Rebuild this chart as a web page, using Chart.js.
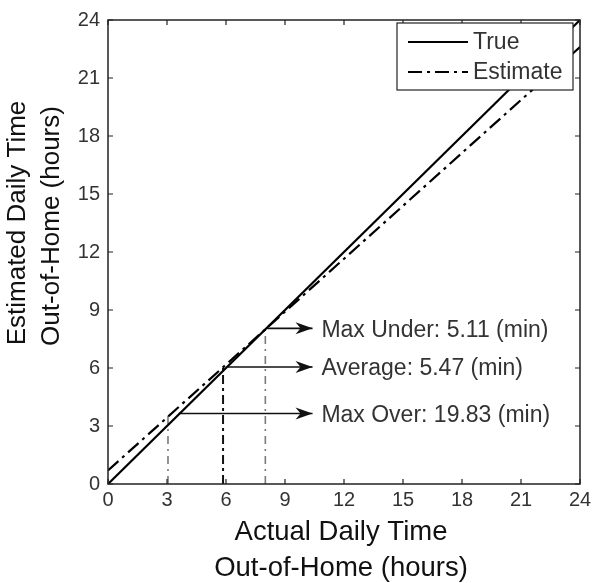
<!DOCTYPE html>
<html>
<head>
<meta charset="utf-8">
<script src="https://cdn.jsdelivr.net/npm/chart.js@4/dist/chart.umd.min.js"></script>
<style>
html,body{margin:0;padding:0;background:#fff;}
#wrap{width:600px;height:583px;}
</style>
</head>
<body>
<div id="wrap"><canvas id="c" width="600" height="583"></canvas></div>
<script>
// ---- data ----
const tickValues = [0, 3, 6, 9, 12, 15, 18, 21, 24];
const trueX = [0, 24];
const trueY = [0, 24];
const estX = [0, 24];
const estY = [0.7, 22.6];
const annLabels = ["Max Under: 5.11 (min)", "Average: 5.47 (min)", "Max Over: 19.83 (min)"];
const annY = [8.05, 6.05, 3.65];
const annStartX = [8.1, 6.1, 3.6];
const annDropX = [8.0, 5.85, 3.05];
const annArrowX = [10.4, 10.4, 10.4];
const annTextX = [10.85, 10.85, 10.85];
const annDropColor = ["#7a7a7a", "#111111", "#7a7a7a"];
const xTitle = ["Actual Daily Time", "Out-of-Home (hours)"];
const yTitle = ["Estimated Daily Time", "Out-of-Home (hours)"];

const FONT = '"Liberation Sans", Arial, sans-serif';

const datasets = [
  {label: "True", data: trueX.map((x, i) => ({x, y: trueY[i]})), borderColor: "#000", borderWidth: 2.2, showLine: true, pointRadius: 0, fill: false},
  {label: "Estimate", data: estX.map((x, i) => ({x, y: estY[i]})), borderColor: "#000", borderWidth: 2.2, borderDash: [14, 5, 3, 5], showLine: true, pointRadius: 0, fill: false}
];
// drop lines and arrow shafts
annLabels.forEach((lab, i) => {
  datasets.push({label: "_drop" + i, data: [{x: annDropX[i], y: 0}, {x: annDropX[i], y: annY[i]}], borderColor: annDropColor[i], borderWidth: i === 1 ? 2 : 1.6, borderDash: i === 1 ? [9, 4, 3, 4] : [8, 5, 2, 5], showLine: true, pointRadius: 0});
  datasets.push({label: "_shaft" + i, data: [{x: annStartX[i], y: annY[i]}, {x: annArrowX[i], y: annY[i]}], borderColor: "#111", borderWidth: 1.6, showLine: true, pointRadius: 0});
});

const framePlugin = {
  id: "frame",
  afterDatasetsDraw(chart) {
    const ctx = chart.ctx, a = chart.chartArea, xs = chart.scales.x, ys = chart.scales.y;
    ctx.save();
    // box
    ctx.strokeStyle = "#222"; ctx.lineWidth = 1.5; ctx.setLineDash([]);
    ctx.strokeRect(a.left, a.top, a.right - a.left, a.bottom - a.top);
    // inward ticks
    ctx.lineWidth = 1.2;
    tickValues.forEach(v => {
      const px = xs.getPixelForValue(v), py = ys.getPixelForValue(v);
      ctx.beginPath();
      ctx.moveTo(px, a.bottom); ctx.lineTo(px, a.bottom - 5);
      ctx.moveTo(px, a.top); ctx.lineTo(px, a.top + 5);
      ctx.moveTo(a.left, py); ctx.lineTo(a.left + 5, py);
      ctx.moveTo(a.right, py); ctx.lineTo(a.right - 5, py);
      ctx.stroke();
    });
    // arrowheads and annotation texts
    ctx.fillStyle = "#111";
    annLabels.forEach((lab, i) => {
      const tx = xs.getPixelForValue(annArrowX[i]), ty = ys.getPixelForValue(annY[i]);
      ctx.beginPath();
      ctx.moveTo(tx, ty);
      ctx.lineTo(tx - 17, ty - 6);
      ctx.lineTo(tx - 12, ty);
      ctx.lineTo(tx - 17, ty + 6);
      ctx.closePath();
      ctx.fill();
    });
    ctx.fillStyle = "#333";
    ctx.font = "23px " + FONT;
    ctx.textAlign = "left"; ctx.textBaseline = "middle";
    annLabels.forEach((lab, i) => {
      ctx.fillText(lab, xs.getPixelForValue(annTextX[i]), ys.getPixelForValue(annY[i]) + 2);
    });
    // legend
    const lx = 397, ly = 23, lw = 176, lh = 67;
    ctx.fillStyle = "#fff";
    ctx.fillRect(lx, ly, lw, lh);
    ctx.strokeStyle = "#222"; ctx.lineWidth = 1.2;
    ctx.strokeRect(lx, ly, lw, lh);
    [0, 1].forEach(k => {
      const ds = chart.data.datasets[k];
      const yy = ly + 19 + k * 30;
      ctx.strokeStyle = ds.borderColor; ctx.lineWidth = 2.2;
      ctx.setLineDash(ds.borderDash || []);
      ctx.beginPath(); ctx.moveTo(lx + 11, yy); ctx.lineTo(lx + 71, yy); ctx.stroke();
      ctx.setLineDash([]);
      ctx.fillStyle = "#333"; ctx.font = "23px " + FONT;
      ctx.fillText(ds.label, lx + 76, yy + 1);
    });
    // axis titles
    ctx.fillStyle = "#111";
    ctx.textAlign = "center"; ctx.textBaseline = "middle";
    const cx = (a.left + a.right) / 2 - 3;
    ctx.font = "27.5px " + FONT;
    ctx.fillText(xTitle[0], cx, 532);
    ctx.fillText(xTitle[1], cx, 568);
    ctx.font = "26px " + FONT;
    ctx.save();
    ctx.translate(18, 223); ctx.rotate(-Math.PI / 2);
    ctx.fillText(yTitle[0], 0, 0);
    ctx.restore();
    ctx.save();
    ctx.translate(52, 226); ctx.rotate(-Math.PI / 2);
    ctx.fillText(yTitle[1], 0, 0);
    ctx.restore();
    ctx.restore();
  }
};

new Chart(document.getElementById("c"), {
  type: "scatter",
  data: {datasets},
  options: {
    responsive: false,
    animation: false,
    devicePixelRatio: 1,
    layout: {padding: {top: 12, right: 20, left: 0, bottom: 0}},
    plugins: {legend: {display: false}, tooltip: {enabled: false}},
    scales: {
      x: {
        type: "linear", min: 0, max: 24,
        afterBuildTicks(s) { s.ticks = tickValues.map(v => ({value: v})); },
        afterFit(s) { s.height = 99; },
        grid: {display: false, drawTicks: false},
        border: {display: false},
        ticks: {padding: 4, color: "#333", font: {family: FONT, size: 20}}
      },
      y: {
        type: "linear", min: 0, max: 24,
        afterBuildTicks(s) { s.ticks = tickValues.map(v => ({value: v})); },
        afterFit(s) { s.width = 108; },
        grid: {display: false, drawTicks: false},
        border: {display: false},
        ticks: {padding: 8, color: "#333", font: {family: FONT, size: 20}}
      }
    }
  },
  plugins: [framePlugin]
});
</script>
</body>
</html>
